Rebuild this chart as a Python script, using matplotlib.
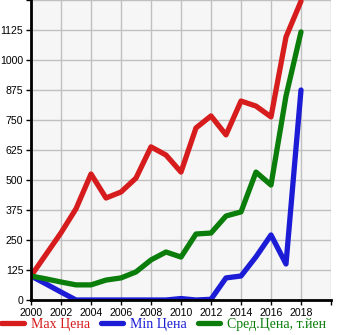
import numpy as np
import matplotlib
matplotlib.use("Agg")
import matplotlib.pyplot as plt

years = list(range(2000, 2019))
max_price = [100, 190, 280, 380, 525, 425, 450, 508, 638, 604, 533, 717, 767, 688, 829, 808, 763, 1096, 1245]
min_price = [100, 67, 33, 0, 0, 0, 0, 0, 0, 0, 6, 0, 3, 92, 100, 180, 271, 150, 875]
avg_price = [100, 88, 75, 63, 63, 83, 92, 117, 167, 200, 179, 275, 279, 350, 367, 533, 479, 850, 1117]

series_names = ["Max Цена", "Min Цена", "Сред.Цена, т.йен"]
series_colors = ["#d61c1c", "#1c1cd6", "#0a7d0a"]

fig = plt.figure(figsize=(3.45, 3.35), dpi=100)
ax = fig.add_axes([31 / 345, 35 / 335, 300 / 345, 300 / 335])
ax.set_facecolor("#f6f6f6")

for vals, name, col in zip([max_price, min_price, avg_price], series_names, series_colors):
    ax.plot(years, vals, color=col, lw=3.8, label=name,
            solid_joinstyle="round", solid_capstyle="round")

ax.set_xlim(2000, 2020)
ax.set_ylim(0, 1250)
ax.set_xticks(range(2000, 2021, 2))
ax.set_xticklabels([str(y) if y < 2020 else "" for y in range(2000, 2021, 2)],
                   family="Liberation Sans")
ax.set_yticks(range(0, 1251, 125))
ax.set_yticklabels([str(v) if v < 1250 else "" for v in range(0, 1251, 125)],
                   family="Liberation Sans")
ax.grid(True, color="#c0c0c0", lw=1)
ax.set_axisbelow(True)
ax.tick_params(labelsize=7.6, length=3.5, width=1, pad=2, colors="black")

for s in ["top", "right"]:
    ax.spines[s].set_visible(False)
ax.spines["left"].set_linewidth(2)
ax.spines["bottom"].set_linewidth(2)

leg = fig.legend(loc="lower left", bbox_to_anchor=(0.0, 0.008), ncol=3,
                 frameon=False, handlelength=1.6, handletextpad=0.5,
                 columnspacing=0.8, borderpad=0.1, borderaxespad=0.0,
                 prop={"family": "Liberation Serif", "size": 10})
for txt, col in zip(leg.get_texts(), series_colors):
    txt.set_color(col)

fig.savefig("out.png", dpi=100)
